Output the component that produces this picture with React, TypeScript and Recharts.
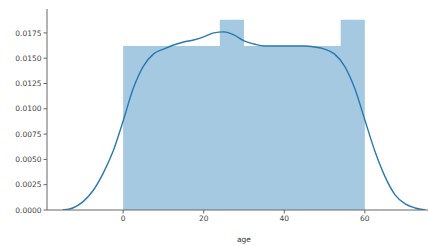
import React from "react";
import {
  ComposedChart,
  Area,
  Line,
  XAxis,
  YAxis,
} from "recharts";

// histogram bins (density), 10 bins of width 6 over age 0..60
const binEdges = [0, 6, 12, 18, 24, 30, 36, 42, 48, 54, 60];
const binHeights = [0.0162, 0.0162, 0.0162, 0.0162, 0.0188, 0.0162, 0.0162, 0.0162, 0.0162, 0.0188];

// kde curve
const kdeX = [
  -15, -12.5, -10, -7.5, -5, -2.5, 0, 2.5, 5, 7.5, 10, 12.5, 15, 17.5, 20, 22.5, 25,
  27.5, 30, 32.5, 35, 37.5, 40, 42.5, 45, 47.5, 50, 52.5, 55, 57.5, 60, 62.5, 65,
  67.5, 70, 72.5, 75,
];
const kdeY = [
  0.0, 0.0002, 0.0008, 0.0019, 0.0036, 0.0058, 0.0088, 0.012, 0.0142, 0.0154, 0.0159,
  0.0163, 0.0166, 0.0168, 0.0171, 0.0175, 0.0176, 0.0173, 0.0167, 0.0164, 0.0162,
  0.0162, 0.0162, 0.0162, 0.0162, 0.0161, 0.0159, 0.0154, 0.0142, 0.012, 0.0089,
  0.0058, 0.0033, 0.0015, 0.0006, 0.0002, 0.0,
];

const xTicks = [0, 20, 40, 60];
const yTicks = [0, 0.0025, 0.005, 0.0075, 0.01, 0.0125, 0.015, 0.0175];

type Row = { x: number; hist?: number; kde?: number };

function buildRows(): Row[] {
  const byX = new Map<number, Row>();
  const get = (x: number) => {
    let r = byX.get(x);
    if (!r) {
      r = { x };
      byX.set(x, r);
    }
    return r;
  };
  binEdges.forEach((e, i) => {
    get(e).hist = binHeights[Math.min(i, binHeights.length - 1)];
  });
  kdeX.forEach((x, i) => {
    get(x).kde = kdeY[i];
  });
  return [...byX.values()].sort((a, b) => a.x - b.x);
}

const data = buildRows();
const tickStyle = { fill: "#444", fontSize: 7.5 };

export default function App() {
  return (
    <div
      style={{
        position: "absolute",
        left: 0,
        top: 0,
        width: 428,
        height: 246,
        overflow: "hidden",
        background: "#fff",
      }}
    >
      <ComposedChart
        width={441}
        height={246}
        data={data}
        margin={{ top: 9, right: 0, bottom: 0, left: 0 }}
        style={{ fontFamily: "DejaVu Sans" }}
      >
        <XAxis
          dataKey="x"
          type="number"
          domain={[-18.9, 78.9]}
          ticks={xTicks}
          allowDataOverflow
          height={36}
          tick={tickStyle}
          tickSize={3.5}
          tickMargin={2}
          stroke="#666"
          label={{ value: "age", position: "insideBottom", offset: 4, fill: "#333", fontSize: 7.5 }}
        />
        <XAxis
          xAxisId="top"
          dataKey="x"
          type="number"
          orientation="top"
          domain={[-18.9, 78.9]}
          allowDataOverflow
          height={0}
          tick={false}
          tickLine={false}
          stroke="#777"
        />
        <YAxis
          type="number"
          domain={[0, 0.01986]}
          ticks={yTicks}
          allowDataOverflow
          width={47}
          tick={tickStyle}
          tickSize={3.5}
          tickMargin={2}
          tickFormatter={(v: number) => v.toFixed(4)}
          stroke="#666"
        />
        <Area
          type="stepAfter"
          dataKey="hist"
          fill="#1f77b4"
          fillOpacity={0.4}
          stroke="none"
          connectNulls
          isAnimationActive={false}
        />
        <Line
          type="monotone"
          dataKey="kde"
          stroke="#2a78b0"
          strokeWidth={1.4}
          dot={false}
          connectNulls
          isAnimationActive={false}
        />
      </ComposedChart>
    </div>
  );
}
